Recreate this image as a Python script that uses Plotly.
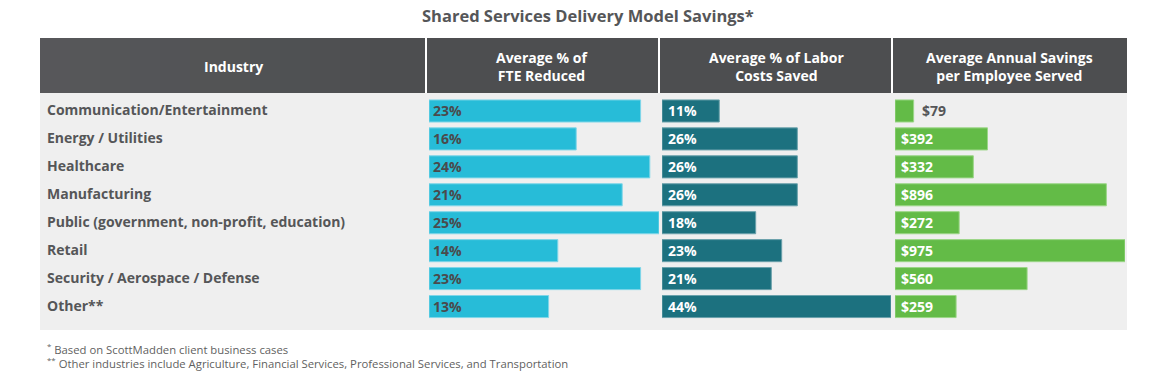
import plotly.graph_objects as go

W, H = 1175, 375
OFF = 8  # default page body margin
FW, FH = W - OFF, H - OFF

industries = [
    "Communication/Entertainment",
    "Energy / Utilities",
    "Healthcare",
    "Manufacturing",
    "Public (government, non-profit, education)",
    "Retail",
    "Security / Aerospace / Defense",
    "Other**",
]
fte_reduced = [23, 16, 24, 21, 25, 14, 23, 13]
labor_saved = [11, 26, 26, 26, 18, 23, 21, 44]
annual_savings = [79, 392, 332, 896, 272, 975, 560, 259]

headers = ["Industry", "Average % of<br>FTE Reduced", "Average % of Labor<br>Costs Saved",
           "Average Annual Savings<br>per Employee Served"]
title = "Shared Services Delivery Model Savings*"
footnotes = ["<sup>*</sup> Based on ScottMadden client business cases",
             "<sup>**</sup> Other industries include Agriculture, Financial Services, Professional Services, and Transportation"]

FONT = "Open Sans"
TXT = "#555658"
C_FTE, C_LAB, C_SAV = "#27bcd8", "#1c717f", "#63bb47"


def px(x):
    return (x - OFF) / FW


def py(y):
    return 1 - (y - OFF) / FH


fig = go.Figure()

fig.add_trace(go.Bar(y=industries, x=fte_reduced, orientation="h", xaxis="x", yaxis="y",
                     marker=dict(color=C_FTE, line=dict(color="#7fd6e8", width=1)), width=0.79,
                     hoverinfo="skip"))
fig.add_trace(go.Bar(y=industries, x=labor_saved, orientation="h", xaxis="x2", yaxis="y",
                     marker=dict(color=C_LAB, line=dict(color="#6aa1ab", width=1)), width=0.79,
                     hoverinfo="skip"))
fig.add_trace(go.Bar(y=industries, x=annual_savings, orientation="h", xaxis="x3", yaxis="y",
                     marker=dict(color=C_SAV, line=dict(color="#9bd687", width=1)), width=0.79,
                     hoverinfo="skip"))

ann = []
ann.append(dict(text="<b>" + title + "</b>", x=px(588), y=py(16), xref="paper", yref="paper",
                showarrow=False, font=dict(family=FONT, size=16.5, color="#555658"),
                xanchor="center", yanchor="middle"))
hx = [233, 542, 776, 1009]
for h, x in zip(headers, hx):
    ann.append(dict(text="<b>" + h + "</b>", x=px(x), y=py(66), xref="paper", yref="paper",
                    showarrow=False, font=dict(family=FONT, size=14, color="white"),
                    xanchor="center", yanchor="middle"))
for ind in industries:
    ann.append(dict(text="<b>" + ind + "</b>", x=px(45), y=ind, xref="paper", yref="y",
                    showarrow=False, font=dict(family=FONT, size=14, color=TXT),
                    xanchor="left", yanchor="middle", yshift=1))
for ind, v in zip(industries, fte_reduced):
    ann.append(dict(text="<b>%d%%</b>" % v, x=0, y=ind, xref="x", yref="y", showarrow=False,
                    font=dict(family=FONT, size=14, color="#4a4a4c"), xanchor="left",
                    yanchor="middle", xshift=2))
for ind, v in zip(industries, labor_saved):
    ann.append(dict(text="<b>%d%%</b>" % v, x=0, y=ind, xref="x2", yref="y", showarrow=False,
                    font=dict(family=FONT, size=14, color="white"), xanchor="left",
                    yanchor="middle", xshift=4))
max_sav = max(annual_savings)
for ind, v in zip(industries, annual_savings):
    if v < 0.15 * max_sav:
        ann.append(dict(text="<b>$%d</b>" % v, x=v, y=ind, xref="x3", yref="y", showarrow=False,
                        font=dict(family=FONT, size=14, color="#555658"), xanchor="left",
                        yanchor="middle", xshift=6))
    else:
        ann.append(dict(text="<b>$%d</b>" % v, x=0, y=ind, xref="x3", yref="y", showarrow=False,
                        font=dict(family=FONT, size=14, color="white"), xanchor="left",
                        yanchor="middle", xshift=4))
for i, f in enumerate(footnotes):
    ann.append(dict(text=f, x=px(45), y=py(349 + 13.5 * i), xref="paper", yref="paper",
                    showarrow=False, font=dict(family=FONT, size=11.3, color="#5f5f61"),
                    xanchor="left", yanchor="middle"))

shapes = [
    dict(type="rect", xref="paper", yref="paper", x0=px(40), x1=px(1127), y0=py(330), y1=py(93),
         fillcolor="#efefef", line=dict(width=0), layer="below"),
    dict(type="rect", xref="paper", yref="paper", x0=px(40), x1=px(1127), y0=py(93), y1=py(38),
         fillcolor="#4d4e50", line=dict(width=0), layer="below"),
]
# soft left-to-right lightening in the header band
steps = 12
for k in range(steps):
    x0 = 40 + k * 30
    shapes.append(dict(type="rect", xref="paper", yref="paper", x0=px(x0), x1=px(x0 + 30),
                       y0=py(93), y1=py(38), fillcolor="#6a6b6d",
                       opacity=0.35 * (1 - k / steps), line=dict(width=0), layer="below"))
for x in [426, 659, 892]:
    shapes.append(dict(type="line", xref="paper", yref="paper", x0=px(x), x1=px(x), y0=py(93),
                       y1=py(38), line=dict(color="white", width=2)))

ax_common = dict(showgrid=False, zeroline=False, showticklabels=False, showline=False,
                 ticks="", anchor="y", fixedrange=True)
fig.update_layout(
    width=FW, height=FH, margin=dict(l=0, r=0, t=0, b=0),
    paper_bgcolor="white", plot_bgcolor="rgba(0,0,0,0)", showlegend=False,
    barmode="overlay",
    xaxis=dict(domain=[px(429), px(659)], range=[0, 25], **ax_common),
    xaxis2=dict(domain=[px(662), px(891)], range=[0, 44], **ax_common),
    xaxis3=dict(domain=[px(895), px(1125)], range=[0, 975], **ax_common),
    yaxis=dict(domain=[py(320.5), py(97)], autorange="reversed", showgrid=False, zeroline=False,
               showticklabels=False, ticks="", showline=False, anchor="x", fixedrange=True),
    annotations=ann, shapes=shapes,
)

fig.write_html("out.html")
